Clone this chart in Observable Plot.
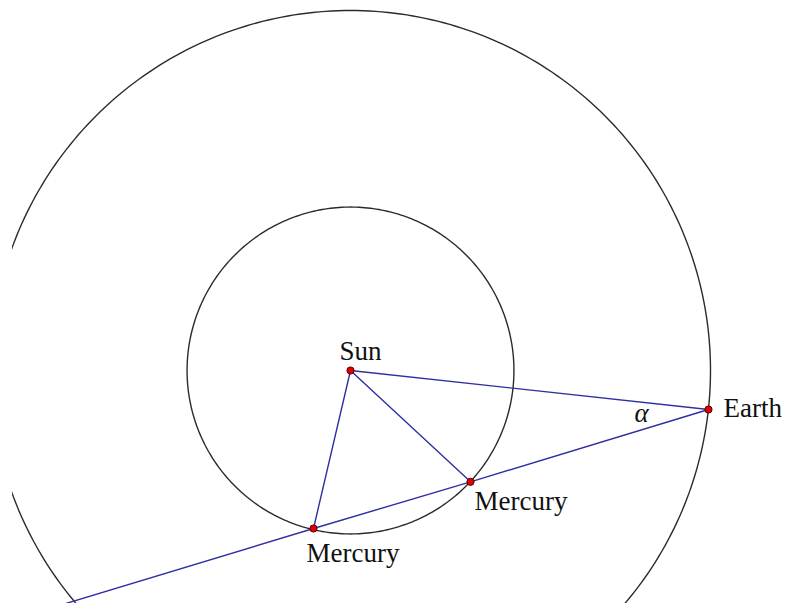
<!DOCTYPE html>
<html>
<head>
<meta charset="utf-8">
<script src="https://cdn.jsdelivr.net/npm/d3@7"></script>
<script src="https://cdn.jsdelivr.net/npm/@observablehq/plot@0.6"></script>
<style>
  html, body { margin: 0; padding: 0; background: #fff; }
  #chart svg { display: block; }
  #chart svg text { font-family: "Liberation Serif", "Times New Roman", Times, serif !important; }
</style>
</head>
<body>
<div id="chart"></div>
<script>
// Orbits (radius in Earth-orbit units), Sun at the origin
const orbitNames = ["Mercury orbit", "Earth orbit"];
const orbitRadii = [0.454, 1.0];

// Bodies (positions, Earth-orbit units)
const bodyNames = ["Sun", "Earth", "Mercury", "Mercury"];
const bodyX = [0, 0.9944, 0.3333, -0.1028];
const bodyY = [0, -0.1083, -0.3093, -0.4389];

// Sight line from Earth through both Mercury positions, to the lower-left edge
const sightX = [0.9944, 0.3333, -0.1028, -0.79];
const sightY = [-0.1083, -0.3093, -0.4389, -0.647];

const angleLabel = "α";

// ---- derived tables ----
const bodies = bodyNames.map((name, i) => ({name, x: bodyX[i], y: bodyY[i]}));
const sun = bodies[0];
const orbitPts = [];
orbitRadii.forEach((r, k) => {
  for (let a = 0; a <= 360; a += 1) {
    const t = a * Math.PI / 180;
    orbitPts.push({orbit: orbitNames[k], x: r * Math.cos(t), y: r * Math.sin(t)});
  }
});
const spokes = [];
[1, 2, 3].forEach(i => {
  spokes.push({seg: i, x: sun.x, y: sun.y});
  spokes.push({seg: i, x: bodies[i].x, y: bodies[i].y});
});
const sight = sightX.map((x, i) => ({x, y: sightY[i]}));

const ink = "#2b2b2b";
const blue = "#2f2fa2";
const font = "Liberation Serif";
const labelOffsets = [
  {dx: 10, dy: -19, anchor: "middle"},
  {dx: 15, dy: -1, anchor: "start"},
  {dx: 4, dy: 20, anchor: "start"},
  {dx: -7, dy: 25, anchor: "start"}
];

const chart = Plot.plot({
  width: 793,
  height: 606,
  marginLeft: 12,
  marginRight: 0,
  marginTop: 0,
  marginBottom: 3,
  x: {domain: [(12 - 350) / 360, (793 - 350) / 360], axis: null},
  y: {domain: [(370 - 603) / 360, 370 / 360], axis: null},
  style: {background: "#fff"},
  marks: [
    Plot.line(orbitPts, {x: "x", y: "y", z: "orbit", stroke: ink, strokeWidth: 1.4, clip: true}),
    Plot.line(spokes, {x: "x", y: "y", z: "seg", stroke: blue, strokeWidth: 1.4, clip: true}),
    Plot.line(sight, {x: "x", y: "y", stroke: blue, strokeWidth: 1.4, clip: true}),
    Plot.dot(bodies, {x: "x", y: "y", r: 3.6, fill: "#e00000", stroke: "#5a0000", strokeWidth: 1}),
    ...bodies.map((b, i) => Plot.text([b], {
      x: "x", y: "y", text: "name",
      dx: labelOffsets[i].dx, dy: labelOffsets[i].dy,
      textAnchor: labelOffsets[i].anchor,
      fontFamily: font, fontSize: 27, fill: "#111"
    })),
    Plot.text([bodies[1]], {
      x: "x", y: "y", text: () => angleLabel,
      dx: -67, dy: 4, textAnchor: "middle",
      fontFamily: font, fontSize: 27, fontStyle: "italic", fill: "#111"
    })
  ]
});
document.getElementById("chart").appendChild(chart);
</script>
</body>
</html>
